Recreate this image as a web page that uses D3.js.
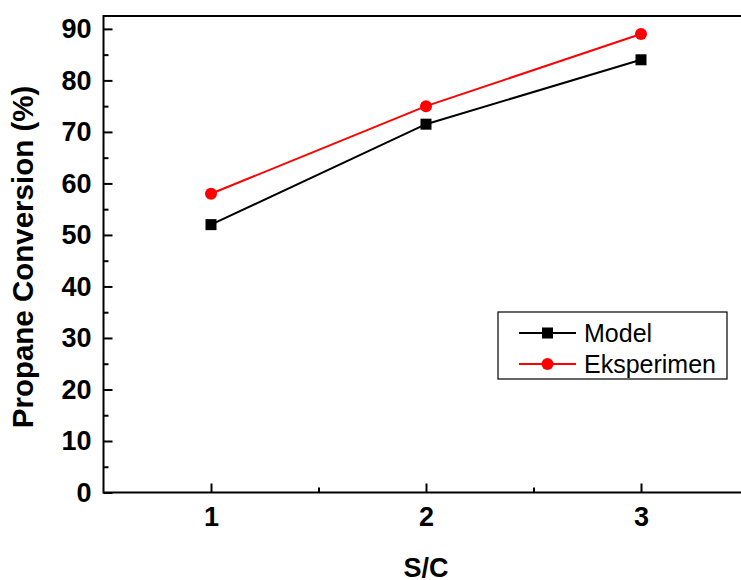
<!DOCTYPE html>
<html>
<head>
<meta charset="utf-8">
<script src="https://cdn.jsdelivr.net/npm/d3@7"></script>
<style>
	body { margin: 0; background: #fff; }
	svg { display: block; font-family: Arial, "Liberation Sans", sans-serif; }
</style>
</head>
<body>
<div id="chart"></div>
<script>
// data
var sc = [1, 2, 3];
var model = [52, 71.5, 84];
var eksperimen = [58, 75, 89];
var seriesNames = ["Model", "Eksperimen"];
var yTicks = [0, 10, 20, 30, 40, 50, 60, 70, 80, 90];

var width = 741, height = 580;
var plotLeft = 103.5, plotTop = 16, plotBottom = 492.5;

var svg = d3.select("#chart").append("svg")
	.attr("width", width).attr("height", height);

var x = d3.scaleLinear().domain([0.5, 3.5]).range([plotLeft, plotLeft + 645]);
var y = d3.scaleLinear().domain([0, 92.5]).range([plotBottom, plotTop]);

// frame (right side runs off the page)
svg.append("path")
	.attr("d", "M" + x(3.5) + "," + plotTop + "H" + plotLeft + "V" + plotBottom + "H" + x(3.5))
	.attr("fill", "none").attr("stroke", "#000").attr("stroke-width", 2);

// y axis: ticks point inward
var yAxis = d3.axisLeft(y).tickValues(yTicks).tickSize(-9).tickPadding(12).tickFormat(d3.format("d"));
var gy = svg.append("g").attr("transform", "translate(" + plotLeft + ",0)").call(yAxis);
gy.select(".domain").remove();
gy.selectAll(".tick line").attr("stroke-width", 2);
gy.selectAll("text").attr("font-size", 27).attr("font-weight", "bold").attr("fill", "#000");
var yMinorVals = yTicks.map(function(d) { return d + 5; }).filter(function(d) { return d < 92.5; });
var yMinor = d3.axisLeft(y).tickValues(yMinorVals).tickSize(-5).tickFormat("");
var gym = svg.append("g").attr("transform", "translate(" + plotLeft + ",0)").call(yMinor);
gym.select(".domain").remove();
gym.selectAll(".tick line").attr("stroke-width", 2);

// x axis
var xAxis = d3.axisBottom(x).tickValues(sc).tickSize(-9).tickPadding(14).tickFormat(d3.format("d"));
var gx = svg.append("g").attr("transform", "translate(0," + plotBottom + ")").call(xAxis);
gx.select(".domain").remove();
gx.selectAll(".tick line").attr("stroke-width", 2);
gx.selectAll("text").attr("font-size", 27).attr("font-weight", "bold").attr("fill", "#000");
var xMinor = d3.axisBottom(x).tickValues([1.5, 2.5]).tickSize(-5).tickFormat("");
var gxm = svg.append("g").attr("transform", "translate(0," + plotBottom + ")").call(xMinor);
gxm.select(".domain").remove();
gxm.selectAll(".tick line").attr("stroke-width", 2);

// axis titles
svg.append("text").attr("x", x(2)).attr("y", 577).attr("text-anchor", "middle")
	.attr("font-size", 27).attr("font-weight", "bold").text("S/C");
svg.append("text").attr("transform", "translate(33,257) rotate(-90)")
	.attr("text-anchor", "middle").attr("font-size", 29.5).attr("font-weight", "bold")
	.text("Propane Conversion (%)");

// series
var line = d3.line().x(function(d, i) { return x(sc[i]); }).y(function(d) { return y(d); });
svg.append("path").datum(model).attr("d", line).attr("fill", "none").attr("stroke", "#000").attr("stroke-width", 2);
svg.append("path").datum(eksperimen).attr("d", line).attr("fill", "none").attr("stroke", "#ff0000").attr("stroke-width", 2);

svg.selectAll("rect.model").data(model).enter().append("rect").attr("class", "model")
	.attr("x", function(d, i) { return x(sc[i]) - 5.5; })
	.attr("y", function(d) { return y(d) - 5.5; })
	.attr("width", 11).attr("height", 11).attr("fill", "#000");
svg.selectAll("circle.eks").data(eksperimen).enter().append("circle").attr("class", "eks")
	.attr("cx", function(d, i) { return x(sc[i]); })
	.attr("cy", function(d) { return y(d); })
	.attr("r", 6).attr("fill", "#ff0000");

// legend
var lg = svg.append("g").attr("transform", "translate(498,312)");
lg.append("rect").attr("x", 0).attr("y", 0).attr("width", 229).attr("height", 67)
	.attr("fill", "#fff").attr("stroke", "#000").attr("stroke-width", 1.2);
var colors = ["#000", "#ff0000"];
seriesNames.forEach(function(name, i) {
	var ly = 21 + i * 31;
	lg.append("line").attr("x1", 21).attr("x2", 78).attr("y1", ly).attr("y2", ly)
		.attr("stroke", colors[i]).attr("stroke-width", 2);
	if (i == 0) {
		lg.append("rect").attr("x", 44).attr("y", ly - 5.5).attr("width", 11).attr("height", 11).attr("fill", "#000");
	} else {
		lg.append("circle").attr("cx", 49.5).attr("cy", ly).attr("r", 6).attr("fill", "#ff0000");
	}
	lg.append("text").attr("x", 86).attr("y", ly + 9).attr("font-size", 25).text(name);
});
</script>
</body>
</html>
